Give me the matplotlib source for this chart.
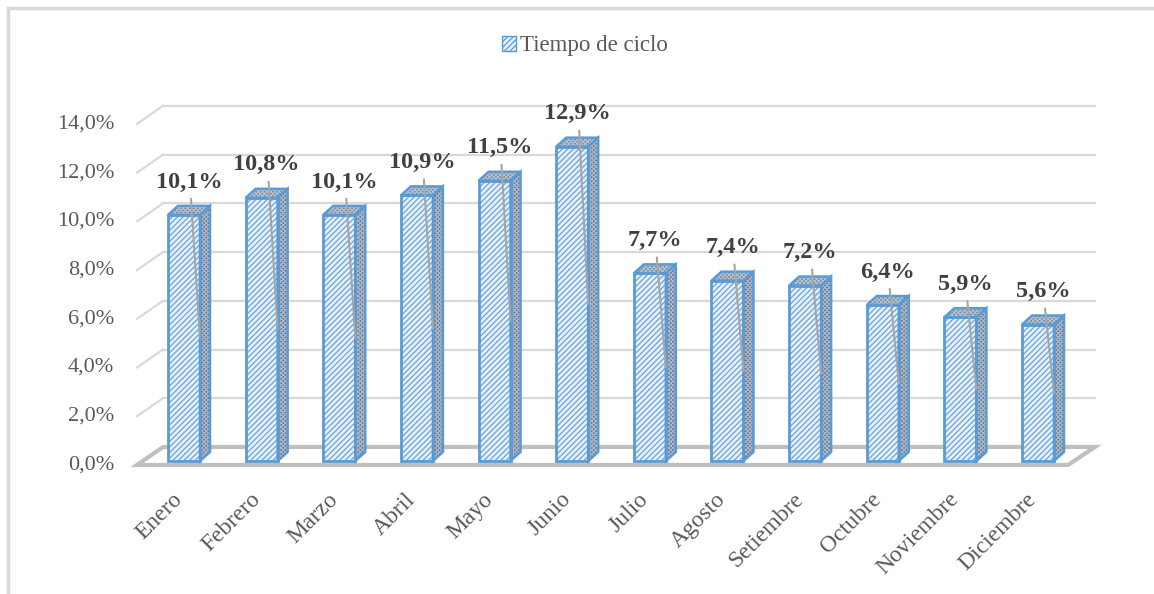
import numpy as np
import matplotlib.pyplot as plt
from matplotlib.patches import Polygon, Patch
from matplotlib.lines import Line2D

meses = ["Enero", "Febrero", "Marzo", "Abril", "Mayo", "Junio", "Julio",
         "Agosto", "Setiembre", "Octubre", "Noviembre", "Diciembre"]
tiempo_ciclo = [10.1, 10.8, 10.1, 10.9, 11.5, 12.9, 7.7, 7.4, 7.2, 6.4, 5.9, 5.6]
ticks_y = [0, 2, 4, 6, 8, 10, 12, 14]
etiquetas_y = ["0,0%", "2,0%", "4,0%", "6,0%", "8,0%", "10,0%", "12,0%", "14,0%"]

plt.rcParams['font.family'] = ['Liberation Serif', 'DejaVu Serif']
plt.rcParams['hatch.linewidth'] = 0.9

azul = '#5b9bd5'
gris_texto = '#595959'

fig = plt.figure(figsize=(11.54, 5.94), dpi=100)
ax = fig.add_axes([0, 0, 1, 1])
ax.set_xlim(-2.370, 12.494)
ax.set_ylim(-5.46, 18.92)
ax.axis('off')

x = np.arange(len(meses))
ancho = 0.412
# profundidad oblicua de cada barra
pdx, pdy = 0.129, 0.37
# piso: borde delantero y borde trasero (pared del fondo)
frente_y = -0.164
fondo_y = 0.575
frente_x0, frente_x1 = -0.605, 11.386
fondo_x0, fondo_x1 = -0.270, 11.733

# lineas de division en la pared del fondo y la pared izquierda
for t in ticks_y[1:]:
    ax.plot([fondo_x0, fondo_x1], [t + fondo_y, t + fondo_y], color='#d9d9d9', lw=1.6, zorder=1)
    ax.plot([frente_x0, fondo_x0], [t + frente_y, t + fondo_y], color='#d9d9d9', lw=1.6, zorder=1)

# piso
piso = Polygon([[frente_x0, frente_y], [fondo_x0, fondo_y], [fondo_x1, fondo_y], [frente_x1, frente_y]],
               closed=True, facecolor='white', edgecolor='#bfbfbf', lw=3, zorder=2)
ax.add_patch(piso)

for t, et in zip(ticks_y, etiquetas_y):
    ax.text(-0.90, t + frente_y, et, ha='right', va='center', fontsize=16, color=gris_texto)

# caras frontales
ax.bar(x, tiempo_ciclo, width=ancho, facecolor='#e6f0fa', edgecolor='#6aa3da',
       hatch='//////', lw=0, zorder=3)
ax.bar(x, tiempo_ciclo, width=ancho, fill=False, edgecolor=azul, lw=2, zorder=5)

for i, v in zip(x, tiempo_ciclo):
    der = i + ancho / 2
    izq = i - ancho / 2
    lado = [[der, 0], [der + pdx, pdy], [der + pdx, v + pdy], [der, v]]
    tapa = [[izq, v], [izq + pdx, v + pdy], [der + pdx, v + pdy], [der, v]]
    ax.add_patch(Polygon(lado, closed=True, facecolor='#66768b', edgecolor='#a9b7c8',
                         hatch='xxxxxxxx', lw=0, zorder=3))
    ax.add_patch(Polygon(tapa, closed=True, facecolor='#75869c', edgecolor='#b3c0cf',
                         hatch='xxxxxxxx', lw=0, zorder=3))
    ax.add_patch(Polygon(lado, closed=True, fill=False, edgecolor=azul, lw=1.8, zorder=4))
    ax.add_patch(Polygon(tapa, closed=True, fill=False, edgecolor=azul, lw=1.8, zorder=4))

    # etiqueta de datos con linea guia
    ax.text(i + 0.065, v + 1.35, f"{v:.1f}%".replace('.', ','), ha='center', va='center',
            fontsize=17.5, fontweight='bold', color='#404040', zorder=7)
    ax.plot([i + 0.09, der], [v + 0.65, v / 2], color='#a6a6a6', lw=1.5, zorder=6)

for i, mes in zip(x, meses):
    ax.text(i - 0.06, -1.45, mes, rotation=45, ha='right', va='center',
            rotation_mode='anchor', fontsize=17, color=gris_texto)

# leyenda
mango = Patch(facecolor='#e6f0fa', edgecolor=azul, hatch='//////', lw=1)
fig.legend(handles=[mango], labels=["Tiempo de ciclo"], loc='center',
           bbox_to_anchor=(0.507, 0.9226), frameon=False, fontsize=16.5,
           handlelength=0.6, handleheight=0.6, handletextpad=0.2, labelcolor=gris_texto)

# borde del area del grafico
fig.add_artist(Line2D([8 / 1154, 8 / 1154], [0, 1 - 8 / 594], color='#d9d9d9', lw=2.5))
fig.add_artist(Line2D([8 / 1154, 1], [1 - 8 / 594, 1 - 8 / 594], color='#d9d9d9', lw=2.5))

fig.savefig('out.png', dpi=100)
